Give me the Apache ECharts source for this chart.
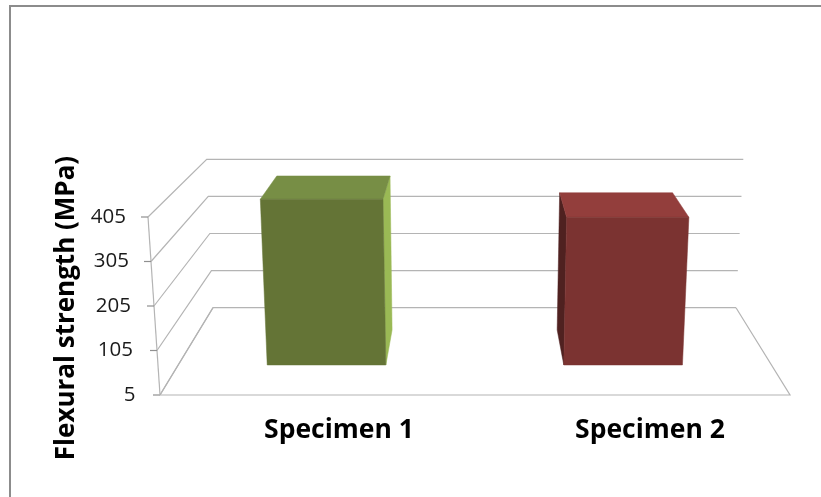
<!DOCTYPE html>
<html><head><meta charset="utf-8">
<style>html,body{margin:0;padding:0;background:#fff}#c{width:821px;height:497px}</style>
<script src="https://cdn.jsdelivr.net/npm/echarts@6/dist/echarts.min.js"></script>
</head><body><div id="c"></div>
<script>
var categories = ['Specimen 1', 'Specimen 2'];
var strength = [400, 357];
var tickValues = [5, 105, 205, 305, 405];
var barColors = [
  {front:'#647436', top:'#778e45', side:'#9ab955', sideAt:'right'},
  {front:'#7b3331', top:'#933e3c', side:'#4f2120', sideAt:'left'}
];
var axisTitle = 'Flexural strength (MPa)';

// box projection: u across, v up, d into the page (all 0..1)
var lerp = function(a,b,t){return a+(b-a)*t;};
function project(u,v,d){
  var l = lerp(lerp(160,148,v), lerp(213,206.7,v), d);
  var r = lerp(lerp(790,802,v), lerp(736,743.3,v), d);
  var y = lerp(395,307.7,d) - v*lerp(178,148.4,d);
  return [l+u*(r-l), y];
}
var GRID = {left:183.5, right:15.5, top:217, bottom:102};
var barFrac = 0.2, dFront = 0.344, dBack = 0.745;
var LINE = '#b4b4b4';
var FONT = '"Open Sans"';

function norm(api, params, cat, val){
  var p = api.coord([cat, val]);
  var cs = params.coordSys;
  return [(p[0]-cs.x)/cs.width, (cs.y+cs.height-p[1])/cs.height];
}
function poly(points, fill){
  return {type:'polygon', shape:{points:points}, style:{fill:fill, stroke:fill, lineWidth:0.5}};
}
function tickRich(pad){
  return {padding:[0,pad,0,0], fontSize:20.5, fontFamily:FONT, color:'#1a1a1a'};
}
var option = {
  animation:false,
  backgroundColor:'#fff',
  graphic:[{type:'polyline', silent:true, z:0,
    shape:{points:[[10,497],[10,6],[821,6]]},
    style:{fill:'none', stroke:'#8c8c8c', lineWidth:2}}],
  grid:GRID,
  xAxis:{type:'category', data:categories,
    axisLine:{show:false}, axisTick:{show:false}, splitLine:{show:false},
    axisLabel:{margin:22, color:'#000', fontFamily:FONT, fontWeight:'bold', fontSize:26.5}},
  yAxis:{type:'value', min:5, max:405, interval:100,
    axisLine:{show:false}, axisTick:{show:false}, splitLine:{show:false},
    name:axisTitle, nameLocation:'middle', nameRotate:90, nameGap:103,
    nameTextStyle:{color:'#000', fontFamily:FONT, fontWeight:'bold', fontSize:26, padding:[0,4,0,0]},
    axisLabel:{margin:48, fontSize:20.5, fontFamily:FONT, color:'#1a1a1a',
      formatter:function(v){return '{t'+v+'|'+v+'}';},
      rich:{t5:tickRich(0), t105:tickRich(2.5), t205:tickRich(4.5), t305:tickRich(6.5), t405:tickRich(9.5)}}},
  series:[
    {type:'custom', z:1, silent:true, clip:false,
     data:tickValues.map(function(v){return [0,v];}),
     renderItem:function(params, api){
       var n = norm(api, params, 0, api.value(1));
       var v = n[1];
       var a = project(0,v,0), b = project(0,v,1), c = project(1,v,1);
       var ch = [
         {type:'polyline', shape:{points:[a,b,c]}, style:{fill:'none', stroke:LINE, lineWidth:1.2}},
         {type:'line', shape:{x1:a[0]-7,y1:a[1],x2:a[0],y2:a[1]}, style:{stroke:'#909090', lineWidth:1.2}}
       ];
       if (params.dataIndex === 0) {
         var f = project(1,0,0);
         ch.push({type:'polyline', shape:{points:[b,a,f,c]}, style:{fill:'none', stroke:LINE, lineWidth:1.2}});
         ch.push({type:'line', shape:{x1:a[0],y1:a[1],x2:project(0,1,0)[0],y2:project(0,1,0)[1]}, style:{stroke:LINE, lineWidth:1.2}});
       }
       return {type:'group', children:ch};
     }},
    {type:'custom', z:2, silent:true, clip:false,
     data:strength.map(function(v,i){return [i,v];}),
     renderItem:function(params, api){
       var i = api.value(0), n = norm(api, params, i, api.value(1));
       var u0 = n[0]-barFrac/2, u1 = n[0]+barFrac/2, v = n[1];
       var col = barColors[i];
       var fbl=project(u0,0,dFront), fbr=project(u1,0,dFront), ftl=project(u0,v,dFront), ftr=project(u1,v,dFront);
       var bbl=project(u0,0,dBack), bbr=project(u1,0,dBack), btl=project(u0,v,dBack), btr=project(u1,v,dBack);
       var side = col.sideAt==='right' ? poly([fbr,ftr,btr,bbr],col.side) : poly([fbl,ftl,btl,bbl],col.side);
       return {type:'group', children:[side, poly([ftl,ftr,btr,btl],col.top), poly([fbl,fbr,ftr,ftl],col.front)]};
     }}
  ]
};
echarts.init(document.getElementById('c'), null, {renderer:'canvas'}).setOption(option);
</script></body></html>
